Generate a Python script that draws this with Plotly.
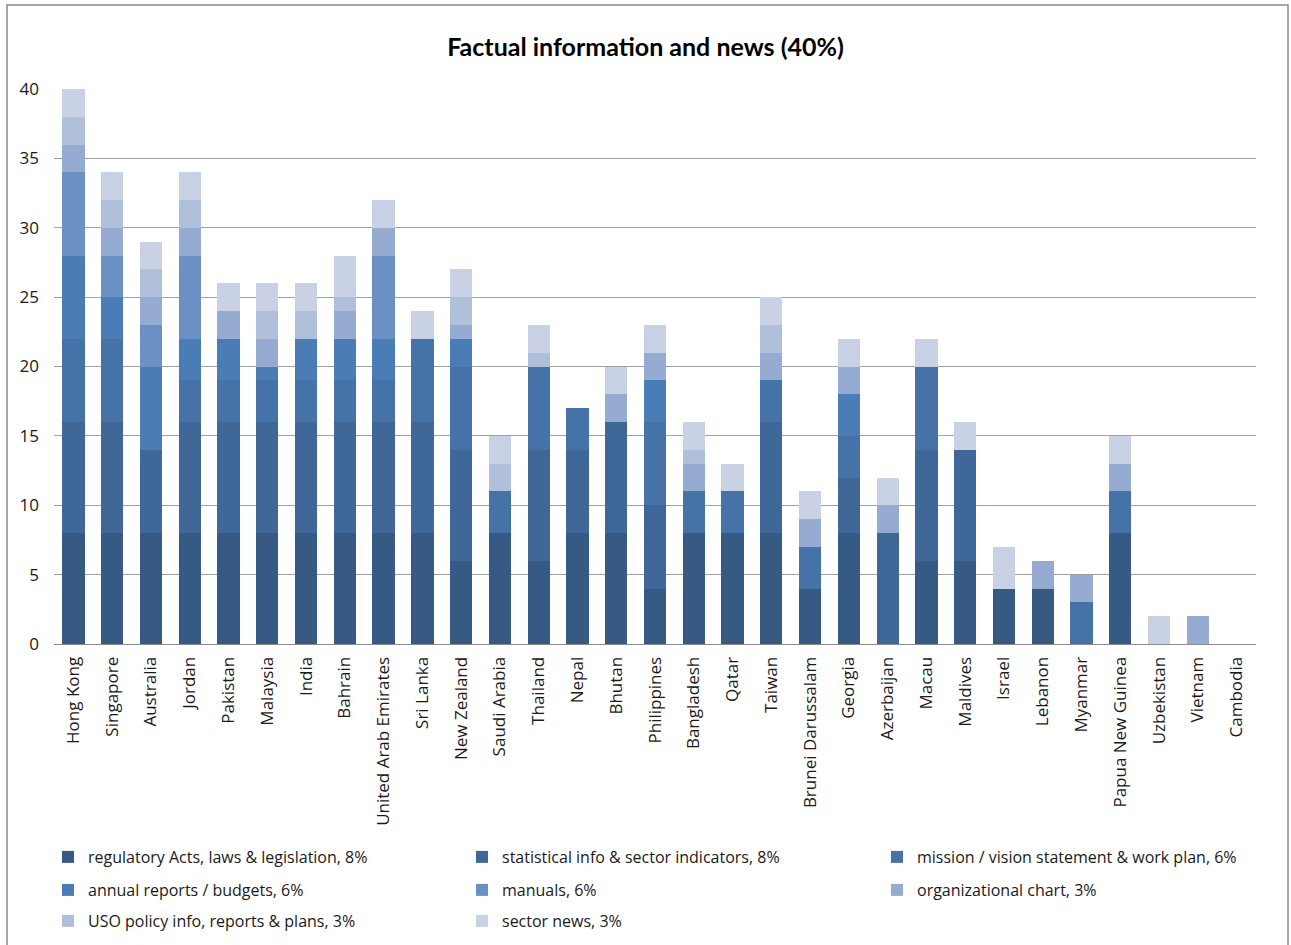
import plotly.graph_objects as go

# Countries, in the order the bars are drawn
country_names = [
    "Hong Kong", "Singapore", "Australia", "Jordan", "Pakistan", "Malaysia",
    "India", "Bahrain", "United Arab Emirates", "Sri Lanka", "New Zealand",
    "Saudi Arabia", "Thailand", "Nepal", "Bhutan", "Philippines", "Bangladesh",
    "Qatar", "Taiwan", "Brunei Darussalam", "Georgia", "Azerbaijan", "Macau",
    "Maldives", "Israel", "Lebanon", "Myanmar", "Papua New Guinea",
    "Uzbekistan", "Vietnam", "Cambodia",
]

# Scores per indicator, one value per country (same order as country_names)
regulatory = [8, 8, 8, 8, 8, 8, 8, 8, 8, 8, 6, 8, 6, 8, 8, 4, 8, 8, 8, 4, 8, 0, 6, 6, 4, 4, 0, 8, 0, 0, 0]
statistical = [8, 8, 6, 8, 8, 8, 8, 8, 8, 8, 8, 0, 8, 6, 8, 6, 0, 0, 8, 0, 4, 8, 8, 8, 0, 0, 0, 0, 0, 0, 0]
mission = [6, 6, 0, 3, 3, 3, 3, 3, 3, 6, 6, 3, 6, 3, 0, 6, 3, 3, 3, 3, 3, 0, 6, 0, 0, 0, 3, 3, 0, 0, 0]
annual = [6, 3, 6, 3, 3, 1, 3, 3, 3, 0, 2, 0, 0, 0, 0, 3, 0, 0, 0, 0, 3, 0, 0, 0, 0, 0, 0, 0, 0, 0, 0]
manuals = [6, 3, 3, 6, 0, 0, 0, 0, 6, 0, 0, 0, 0, 0, 0, 0, 0, 0, 0, 0, 0, 0, 0, 0, 0, 0, 0, 0, 0, 0, 0]
org_chart = [2, 2, 2, 2, 2, 2, 0, 2, 2, 0, 1, 0, 0, 0, 2, 2, 2, 0, 2, 2, 2, 2, 0, 0, 0, 2, 2, 2, 0, 2, 0]
uso_policy = [2, 2, 2, 2, 0, 2, 2, 1, 0, 0, 2, 2, 1, 0, 0, 0, 1, 0, 2, 0, 0, 0, 0, 0, 0, 0, 0, 0, 0, 0, 0]
sector_news = [2, 2, 2, 2, 2, 2, 2, 3, 2, 2, 2, 2, 2, 0, 2, 2, 2, 2, 2, 2, 2, 2, 2, 2, 3, 0, 0, 2, 2, 0, 0]

series_names = [
    "regulatory Acts, laws & legislation, 8%",
    "statistical info & sector indicators, 8%",
    "mission / vision statement & work plan, 6%",
    "annual reports / budgets, 6%",
    "manuals, 6%",
    "organizational chart, 3%",
    "USO policy info, reports & plans, 3%",
    "sector news, 3%",
]
series_values = [regulatory, statistical, mission, annual, manuals,
                 org_chart, uso_policy, sector_news]
series_colors = ["#375a85", "#3f6898", "#4573a8", "#4a7db6",
                 "#6b90c3", "#96abd1", "#b0c0da", "#c9d2e4"]

TITLE_FONT = "Lato"
TEXT_FONT = "Open Sans"
W, H = 1291, 945
L, R, T, B = 54, 35, 89, 301
pw, ph = W - L - R, H - T - B


def px_x(x):
    return (x - L) / pw


def px_y(y):
    return (H - B - y) / ph


# Legend laid out as a 3-column grid: one legend box per entry
legend_cols = [48, 462, 877]
legend_rows = [857, 890, 921]

fig = go.Figure()
legend_layouts = {}
for i, (name, vals, color) in enumerate(zip(series_names, series_values, series_colors)):
    key = "legend" if i == 0 else f"legend{i + 1}"
    fig.add_trace(go.Bar(
        x=country_names, y=vals, name=name,
        marker=dict(color=color, line=dict(width=0)),
        legend=key,
    ))
    col, row = i % 3, i // 3
    legend_layouts[key] = dict(
        orientation="h", xref="container", yref="container",
        x=legend_cols[col] / W, y=1 - legend_rows[row] / H,
        xanchor="left", yanchor="middle",
        font=dict(family=TEXT_FONT, size=16, color="#1a1a1a"),
        bgcolor="rgba(0,0,0,0)",
        itemclick=False, itemdoubleclick=False,
    )

fig.update_layout(
    width=W, height=H,
    margin=dict(l=L, r=R, t=T, b=B),
    paper_bgcolor="white", plot_bgcolor="white",
    barmode="stack", bargap=0.425,
    font=dict(family=TEXT_FONT, size=16, color="#1a1a1a"),
    title=dict(text="<b>Factual information and news (40%)</b>",
               x=0.5, xref="container", xanchor="center",
               y=1 - 47 / H, yref="container", yanchor="middle",
               font=dict(family=TITLE_FONT, size=25, color="#000000")),
    showlegend=True,
    xaxis=dict(
        tickangle=-90, showgrid=False, ticks="",
        showline=True, linecolor="#8c8c8c", linewidth=1,
        tickfont=dict(family=TEXT_FONT, size=17, color="#1a1a1a"),
        ticklabelstandoff=5,
    ),
    yaxis=dict(
        range=[0, 40], dtick=5, tick0=0,
        showgrid=True, gridcolor="#a0a0a0", gridwidth=1,
        zeroline=False, showline=False, ticks="",
        tickfont=dict(family=TEXT_FONT, size=17, color="#1a1a1a"),
        ticklabelstandoff=14,
    ),
    shapes=[dict(
        type="rect", xref="paper", yref="paper",
        x0=px_x(7), x1=px_x(1288), y0=px_y(947), y1=px_y(5),
        line=dict(color="#8a8a8a", width=1.5), fillcolor="rgba(0,0,0,0)",
        layer="below",
    )],
    **legend_layouts,
)

fig.write_html("out.html")
